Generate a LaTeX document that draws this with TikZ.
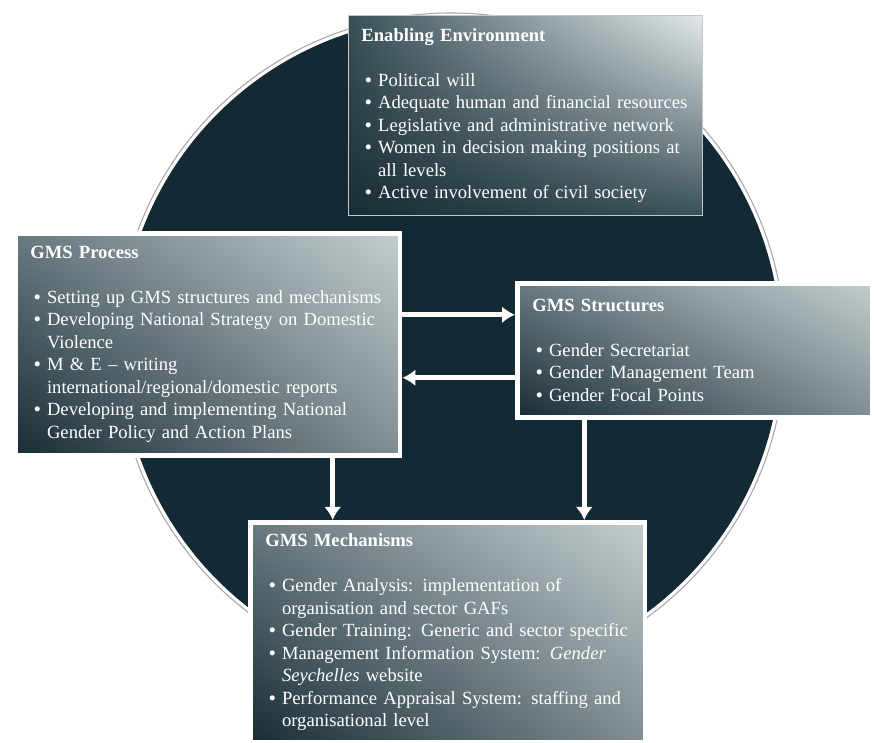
\documentclass[tikz,border=0pt]{standalone}
\usepackage{fontspec}
\setmainfont{Liberation Serif}
\usetikzlibrary{arrows.meta,shadings,shadows}
\definecolor{circ}{RGB}{19,41,51}
\definecolor{boxdark}{RGB}{24,44,54}
\definecolor{boxmid}{RGB}{104,121,128}
\definecolor{boxlight}{RGB}{196,205,207}
\definecolor{boxlow}{RGB}{128,141,145}
\definecolor{envlight}{RGB}{228,233,234}
\definecolor{envmid}{RGB}{58,80,88}
\newcommand\bul{\hspace*{0.2em}\makebox[0.7em][l]{\textbf{\textbullet}}}
\newcommand\cont{\hspace*{0.9em}}

\begin{document}
\begin{tikzpicture}[x=0.02cm, y=0.02cm,
  txt/.style={anchor=north west, text=white, align=left, inner ysep=0pt,
    font=\fontsize{10.6}{12.8}\selectfont},
  panel/.style={txt, draw=white, line width=2.6pt, inner xsep=0.3cm,
    lower left=boxdark, upper left=boxmid, upper right=boxlight, lower right=boxlow,
    general shadow={fill=black!85, shadow xshift=-1.3pt, shadow yshift=-1.3pt}},
  envpanel/.style={txt, draw=gray!45, line width=0.5pt, inner xsep=0.26cm,
    lower left=boxdark, upper left=envmid, upper right=envlight, lower right=envmid},
  flow/.style={white, line width=2.6pt, -{Latex[length=0.26cm, width=0.34cm]}}]
  \useasboundingbox (0,0) rectangle (876,743);

  % background disc
  \fill[circ] (451,396) circle (330);
  \draw[gray!70, line width=0.6pt] (451,396) circle (334);

  % boxes
  \node[envpanel, text width=6.56cm, minimum height=4cm] (env) at (348,728)
    {\textbf{Enabling Environment}\\[12.8pt]
     \bul Political will\\
     \bul Adequate human and financial resources\\
     \bul Legislative and administrative network\\
     \bul Women in decision making positions at\\
     \cont all levels\\
     \bul Active involvement of civil society};

  \node[panel, text width=7.1cm, minimum height=4.44cm] (proc) at (13,512)
    {\textbf{GMS Process}\\[12.8pt]
     \bul Setting up GMS structures and mechanisms\\
     \bul Developing National Strategy on Domestic\\
     \cont Violence\\
     \bul M \& E \textendash\ writing\\
     \cont international/regional/domestic reports\\
     \bul Developing and implementing National\\
     \cont Gender Policy and Action Plans};

  \node[panel, text width=6.5cm, minimum height=2.68cm] (struc) at (515,462)
    {\textbf{GMS Structures}\\[12.8pt]
     \bul Gender Secretariat\\
     \bul Gender Management Team\\
     \bul Gender Focal Points};

  \node[panel, text width=7.3cm, minimum height=4.4cm] (mech) at (248,223)
    {\textbf{GMS Mechanisms}\\[12.8pt]
     \bul Gender Analysis: implementation of\\
     \cont organisation and sector GAFs\\
     \bul Gender Training: Generic and sector specific\\
     \bul Management Information System: \textit{Gender}\\
     \cont \textit{Seychelles} website\\
     \bul Performance Appraisal System: staffing and\\
     \cont organisational level};

  % arrows
  \draw[flow] ([yshift=0.59cm]proc.east) coordinate (a1) -- (a1 -| struc.west);
  \coordinate (a2) at ([yshift=-0.67cm]proc.east);
  \draw[flow] (a2 -| struc.west) -- (a2);
  \draw[flow] ([xshift=2.5cm]proc.south) coordinate (a3) -- (a3 |- mech.north);
  \draw[flow] ([xshift=-2.21cm]struc.south) coordinate (a4) -- (a4 |- mech.north);
\end{tikzpicture}
\end{document}
